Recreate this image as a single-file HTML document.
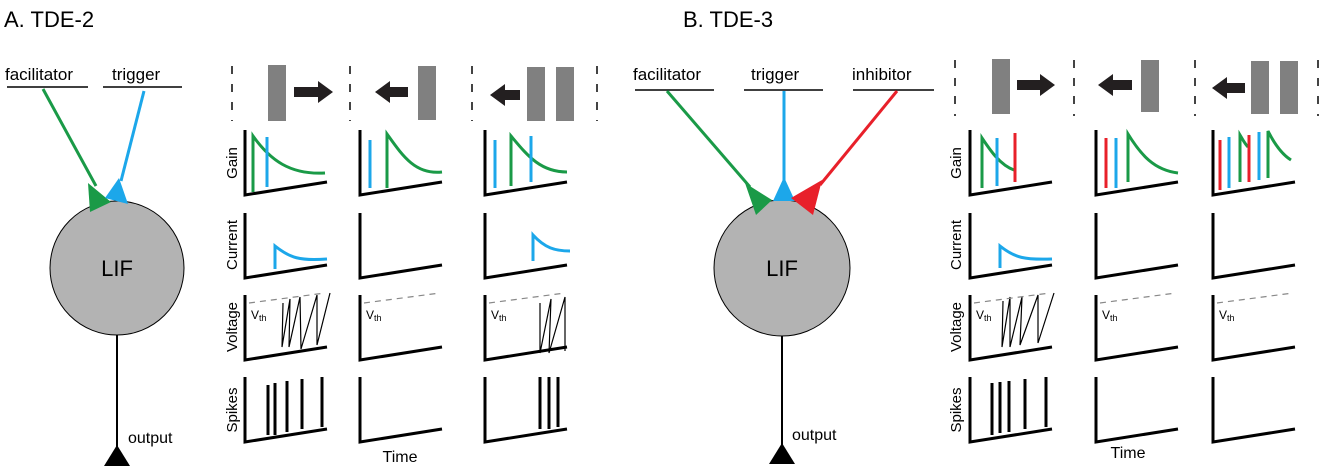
<!DOCTYPE html>
<html><head><meta charset="utf-8"><style>
html,body{margin:0;padding:0;background:#fff;}
svg{display:block;font-family:"Liberation Sans",sans-serif;}
</style></head><body>
<svg id="s" width="1325" height="469" viewBox="0 0 1325 469" xmlns="http://www.w3.org/2000/svg">
<text x="4" y="27" font-size="22">A. TDE-2</text>
<text x="683" y="27" font-size="22">B. TDE-3</text>
<!-- Neuron A -->
<text x="5" y="80" font-size="17">facilitator</text>
<line x1="7" y1="87" x2="88" y2="87" stroke="#000" stroke-width="1.5"/>
<text x="112" y="80" font-size="17">trigger</text>
<line x1="103" y1="87" x2="182" y2="87" stroke="#000" stroke-width="1.5"/>
<line x1="43" y1="89" x2="96" y2="186" stroke="#1a9a47" stroke-width="3"/>
<line x1="144" y1="91" x2="121" y2="181" stroke="#1ca7ea" stroke-width="3"/>
<circle cx="117" cy="268" r="67" fill="#b3b3b3" stroke="#000" stroke-width="1"/>
<polygon points="88,183 90,212 111,202" fill="#1a9a47"/>
<polygon points="119,178 105,198 128,204" fill="#1ca7ea"/>
<text x="117" y="276" font-size="22" text-anchor="middle">LIF</text>
<line x1="117" y1="335" x2="117" y2="447" stroke="#000" stroke-width="2"/>
<polygon points="117,445 104,466 130,466" fill="#000"/>
<text x="128" y="443" font-size="16">output</text>
<!-- Neuron B -->
<text x="633" y="80" font-size="17">facilitator</text>
<line x1="635" y1="90" x2="714" y2="90" stroke="#000" stroke-width="1.5"/>
<text x="751" y="80" font-size="17">trigger</text>
<line x1="744" y1="90" x2="823" y2="90" stroke="#000" stroke-width="1.5"/>
<text x="852" y="80" font-size="17">inhibitor</text>
<line x1="853" y1="90" x2="934" y2="90" stroke="#000" stroke-width="1.5"/>
<line x1="667" y1="91" x2="750" y2="187" stroke="#1a9a47" stroke-width="3"/>
<line x1="784" y1="91" x2="784" y2="182" stroke="#1ca7ea" stroke-width="3"/>
<line x1="897" y1="91" x2="820" y2="185" stroke="#e8202a" stroke-width="3"/>
<circle cx="782" cy="268" r="68" fill="#b3b3b3" stroke="#000" stroke-width="1"/>
<polygon points="745,183 756,215 772,200" fill="#1a9a47"/>
<polygon points="784,177 773,201 795,201" fill="#1ca7ea"/>
<polygon points="822,180 791,198 813,215" fill="#e8202a"/>
<text x="782" y="276" font-size="22" text-anchor="middle">LIF</text>
<line x1="782" y1="336" x2="782" y2="445" stroke="#000" stroke-width="2"/>
<polygon points="782,443 769,464 795,464" fill="#000"/>
<text x="792" y="440" font-size="16">output</text>
<text x="400" y="462" font-size="16" text-anchor="middle">Time</text>
<text x="1128" y="458" font-size="16" text-anchor="middle">Time</text>
<g id="dyn"></g>
</svg>
<script>
var NS="http://www.w3.org/2000/svg",g=document.getElementById("dyn");
function el(t,a,txt){var e=document.createElementNS(NS,t);for(var k in a)e.setAttribute(k,a[k]);if(txt)e.textContent=txt;g.appendChild(e);return e;}
var G="#1a9a47",B="#1ca7ea",R="#e8202a",GR="#808080";
function dash(x,y1,y2){el("line",{x1:x,y1:y1,x2:x,y2:y2,stroke:"#444","stroke-width":2,"stroke-dasharray":"8,10"});}
function bar(x,y,h){el("rect",{x:x,y:y,width:18,height:h,fill:GR});}
function arr(x1,x2,y){var d=x2>x1?1:-1,hx=x2-d*15;
el("polygon",{points:[x1,y-5,hx,y-5,hx,y-11,x2,y,hx,y+11,hx,y+5,x1,y+5].join(" "),fill:"#231f20"});}
// top row A
[232,350,472,597].forEach(function(x){dash(x,66,121);});
bar(268,65,56);arr(294,333,92);arr(408,375,92);bar(418,66,54);arr(520,490,95);bar(527,67,54);bar(556,67,54);
// top row B
[955,1074,1195,1318].forEach(function(x){dash(x,60,116);});
bar(992,59,55);arr(1017,1055,85);arr(1132,1098,85);bar(1141,60,52);arr(1245,1212,88);bar(1251,61,53);bar(1280,61,53);
function plot(x0,yt,content){
 var h=65;
 (content||[]).forEach(function(c){el("path",{d:c[1],transform:"translate("+x0+","+yt+")",fill:"none",stroke:c[0],"stroke-width":c[2]||3});});
 el("path",{d:"M0,0 V"+h+" L82,"+(h-13),transform:"translate("+x0+","+yt+")",fill:"none",stroke:"#000","stroke-width":3});
}
function vth(x0,yt,label){el("path",{d:"M4,8 L80,-2",transform:"translate("+x0+","+yt+")",stroke:"#888","stroke-width":1.2,"stroke-dasharray":"6,5",fill:"none"});
 var t=el("text",{x:x0+6,y:yt+24,"font-size":12},"V");var s=document.createElementNS(NS,"tspan");s.setAttribute("font-size","9");s.setAttribute("dy","2");s.textContent=label||"th";t.appendChild(s);}
function labels(x){[["Gain",163],["Current",245],["Voltage",327],["Spikes",410]].forEach(function(l){
 el("text",{x:x,y:l[1],"font-size":15,"text-anchor":"middle",transform:"rotate(-90 "+x+" "+l[1]+")"},l[0]);});}
labels(237);labels(961);
var decay=function(x,y0,x1,y1){return "C"+(x+12)+","+(y0+25)+" "+(x+25)+","+(y1)+" "+x1+","+y1;};
var sawA="M32,6 L27,50 L36,4 L31,50 L44,4 L38,52 L52,3 L47,50 L60,2 L60,2";
var sawB="M30,-1 L25,50 L34,0 L29,50 L40,0 L35,50 L54,0 L50,48 L62,0";
// Panel A
var xa=[245,360,485];
plot(xa[0],130,[[G,"M8,62 V6 C25,30 45,45 80,43"],[B,"M22,7 V57"]]);
plot(xa[1],130,[[B,"M10,10 V58"],[G,"M27,58 V4 C42,25 55,45 82,42"]]);
plot(xa[2],130,[[B,"M10,10 V58"],[G,"M26,56 V6 C42,25 55,42 82,42"],[B,"M46,6 V52"]]);
plot(xa[0],213,[[B,"M30,56 V33 C45,45 55,48 82,46"]]);
plot(xa[1],213,[]);
plot(xa[2],213,[[B,"M48,48 V22 C60,35 70,38 85,38"]]);
plot(xa[0],295,[[ "#000","M38,8 L37,52 L45,4 L44,52 L55,2 L56,54 L72,0 L72,50 L85,-2",1.2]]);vth(xa[0],295);
plot(xa[1],295,[]);vth(xa[1],295);
plot(xa[2],295,[[ "#000","M55,8 L55,58 L66,4 L64,58 L80,2 L80,56",1.2]]);vth(xa[2],295);
plot(xa[0],377,[["#000","M23,8 V58 M30,6 V58 M42,4 V55 M57,2 V52 M77,0 V50",3]]);
plot(xa[1],377,[]);
plot(xa[2],377,[["#000","M55,0 V52 M64,0 V52 M73,0 V50",3]]);
// Panel B
var xb=[970,1096,1213];
plot(xb[0],130,[[G,"M12,58 V8 C20,20 30,35 44,40"],[B,"M27,8 V56"],[R,"M45,3 V52"]]);
plot(xb[1],130,[[R,"M10,8 V58"],[B,"M20,8 V58"],[G,"M32,52 V4 C45,25 58,40 82,43"]]);
plot(xb[2],130,[[R,"M7,10 V60"],[B,"M16,7 V58"],[G,"M27,52 V5 C30,10 32,14 35,17"],[R,"M36,5 V52"],[B,"M46,2 V50"],[G,"M55,48 V1 C62,15 70,25 78,30"]]);
plot(xb[0],213,[[B,"M30,55 V33 C45,45 55,47 82,46"]]);
plot(xb[1],213,[]);
plot(xb[2],213,[]);
plot(xb[0],295,[["#000","M33,6 L32,52 L40,2 L40,52 L52,2 L50,50 L68,0 L68,48 L84,-2",1.2]]);vth(xb[0],295);
plot(xb[1],295,[]);vth(xb[1],295);
plot(xb[2],295,[]);vth(xb[2],295);
plot(xb[0],377,[["#000","M22,6 V58 M30,5 V56 M39,4 V55 M55,2 V52 M76,0 V50",3]]);
plot(xb[1],377,[]);
plot(xb[2],377,[]);
</script>
</body></html>
